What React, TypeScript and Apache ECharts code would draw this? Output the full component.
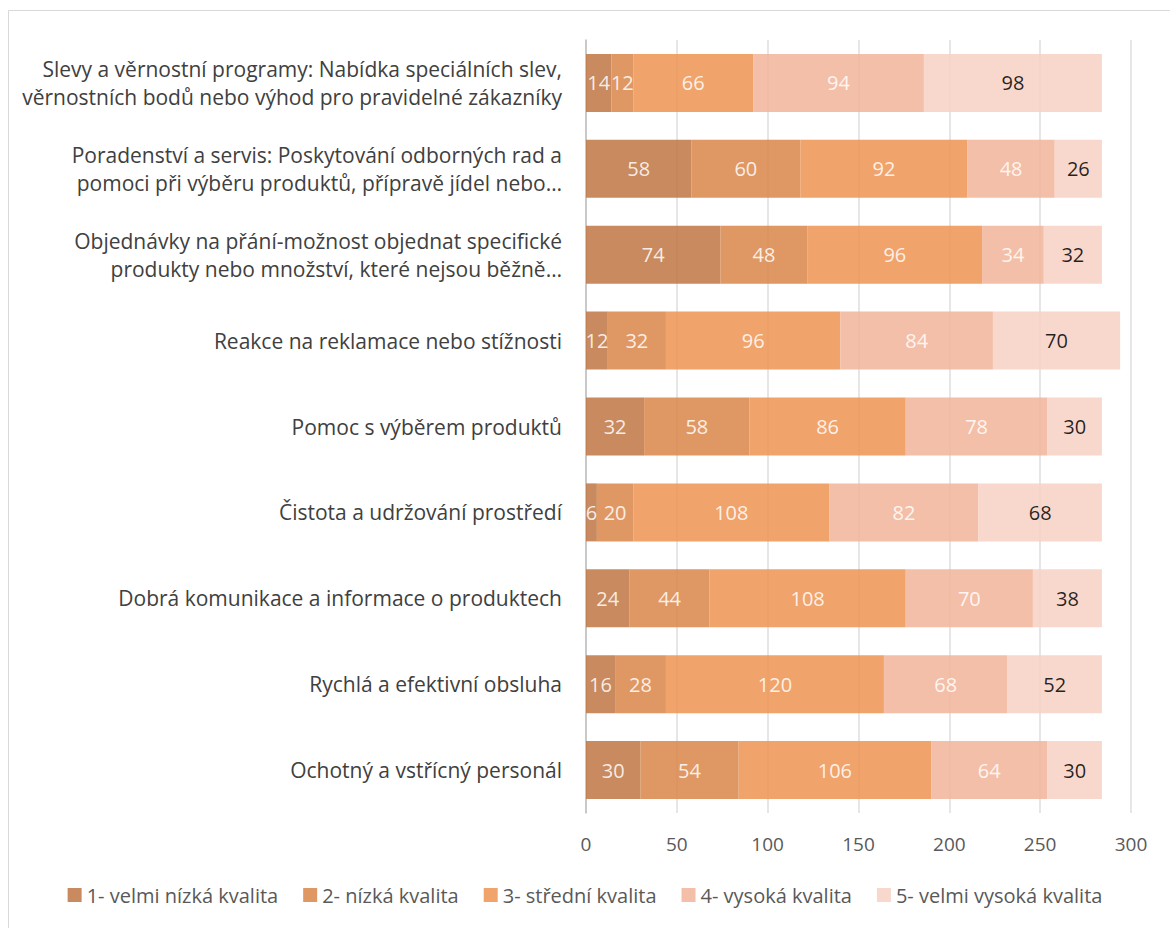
import React, { useEffect, useRef } from "react";
import * as echarts from "echarts";

const categories = [
  "Ochotný a vstřícný personál",
  "Rychlá a efektivní obsluha",
  "Dobrá komunikace a informace o produktech",
  "Čistota a udržování prostředí",
  "Pomoc s výběrem produktů",
  "Reakce na reklamace nebo stížnosti",
  "Objednávky na přání-možnost objednat specifické\nprodukty nebo množství, které nejsou běžně…",
  "Poradenství a servis: Poskytování odborných rad a\npomoci při výběru produktů, přípravě jídel nebo…",
  "Slevy a věrnostní programy: Nabídka speciálních slev,\nvěrnostních bodů nebo výhod pro pravidelné zákazníky",
];

const seriesNames = [
  "1- velmi nízká kvalita",
  "2- nízká kvalita",
  "3- střední kvalita",
  "4- vysoká kvalita",
  "5- velmi vysoká kvalita",
];

const q1 = [30, 16, 24, 6, 32, 12, 74, 58, 14];
const q2 = [54, 28, 44, 20, 58, 32, 48, 60, 12];
const q3 = [106, 120, 108, 108, 86, 96, 96, 92, 66];
const q4 = [64, 68, 70, 82, 78, 84, 34, 48, 94];
const q5 = [30, 52, 38, 68, 30, 70, 32, 26, 98];

const colors = ["#BE7542", "#D98649", "#ED9452", "#F2B499", "#F7D1C3"];
const labelColors = ["#ffffff", "#ffffff", "#ffffff", "#ffffff", "#000000"];

const FONT = "'Open Sans', 'Noto Sans', sans-serif";

export default function App() {
  const ref = useRef<HTMLDivElement>(null);
  useEffect(() => {
    if (!ref.current) return;
    const chart = echarts.init(ref.current, undefined, { renderer: "svg" });
    const data = [q1, q2, q3, q4, q5];
    chart.setOption({
      animation: false,
      textStyle: { fontFamily: FONT },
      graphic: [
        {
          type: "rect",
          shape: { x: 8.5, y: 10.5, width: 1175, height: 940 },
          style: { fill: "none", stroke: "#d9d9d9", lineWidth: 1 },
          silent: true,
        },
      ],
      grid: { left: 586, right: 39, top: 40, bottom: 115, containLabel: false },
      xAxis: {
        type: "value",
        min: 0,
        max: 300,
        interval: 50,
        axisLine: { show: false },
        axisTick: { show: false },
        splitLine: { show: true, lineStyle: { color: "#dedede", width: 1.5 } },
        axisLabel: { color: "#595959", fontSize: 19, margin: 21, fontFamily: FONT },
      },
      yAxis: {
        type: "category",
        data: categories,
        axisLine: { show: true, lineStyle: { color: "#bfbfbf", width: 1.5 } },
        axisTick: { show: false },
        axisLabel: {
          color: "#404040",
          fontSize: 21,
          lineHeight: 28,
          margin: 24,
          align: "right",
          fontFamily: FONT,
        },
      },
      legend: {
        bottom: 18,
        left: "center",
        itemWidth: 14,
        itemHeight: 14,
        itemGap: 25,
        icon: "rect",
        textStyle: { color: "#595959", fontSize: 20, fontFamily: FONT },
        data: seriesNames,
      },
      series: seriesNames.map((name, i) => ({
        name,
        type: "bar",
        stack: "total",
        barWidth: 58,
        data: data[i],
        itemStyle: { color: colors[i], opacity: 0.85 },
        label: {
          show: true,
          position: "inside",
          color: labelColors[i],
          fontSize: 20,
          fontFamily: FONT,
        },
      })),
    });
    return () => chart.dispose();
  }, []);
  return (
    <div
      ref={ref}
      style={{ position: "fixed", left: 0, top: 0, width: 1170, height: 928, background: "#fff" }}
    />
  );
}
